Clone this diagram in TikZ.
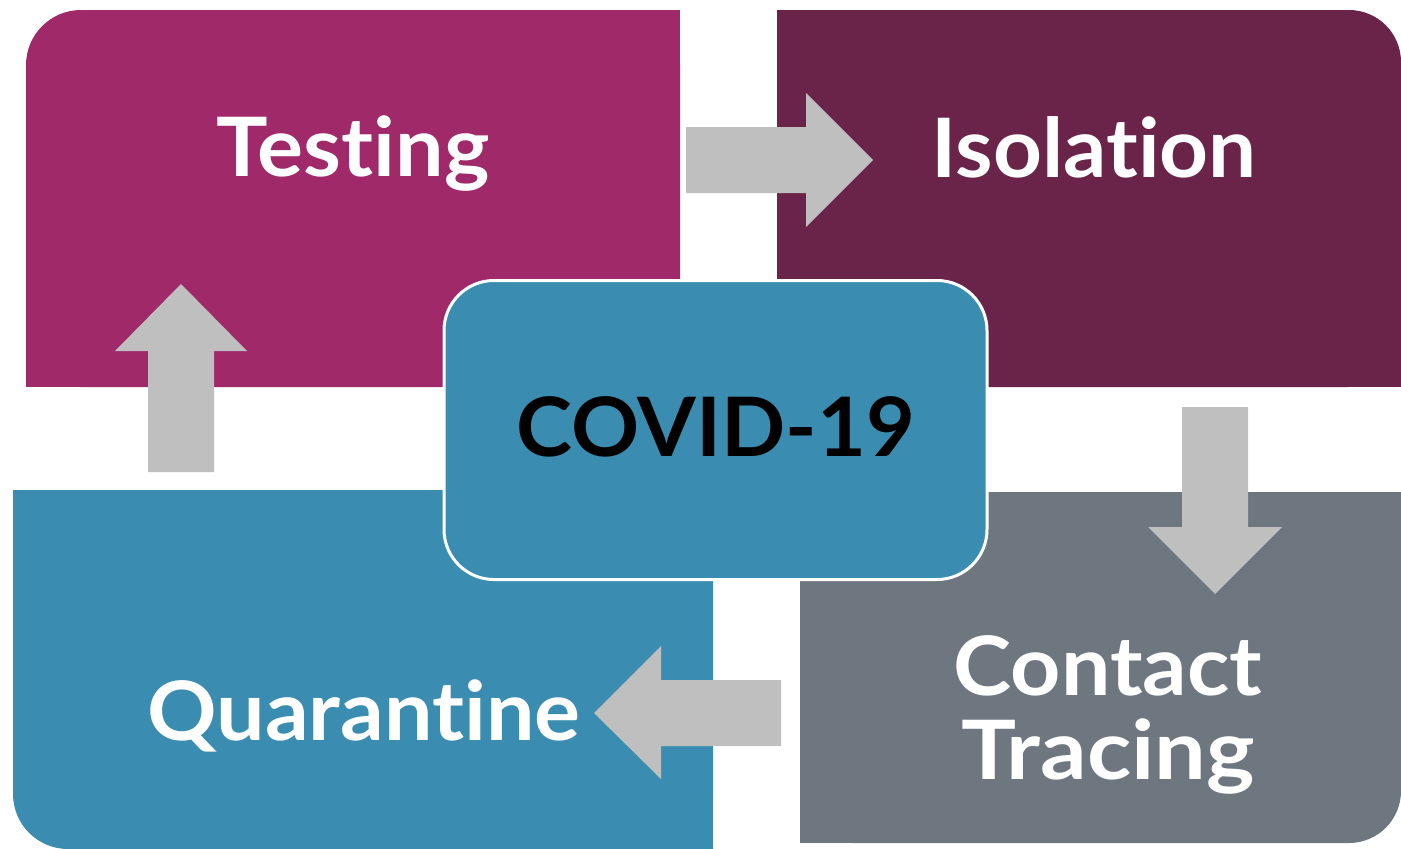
\documentclass[tikz,border=0pt]{standalone}
\usepackage{fontspec}
\setmainfont{Lato}[Ligatures=NoCommon]
\definecolor{testc}{HTML}{A0296A}
\definecolor{isoc}{HTML}{6A2449}
\definecolor{bluec}{HTML}{3A8DB0}
\definecolor{greyc}{HTML}{6E7780}
\definecolor{arrc}{HTML}{BFBFBF}
\begin{document}
\begin{tikzpicture}[x=1pt,y=-1pt,
  lbl/.style={anchor=base, font=\fontsize{82}{90}\selectfont\bfseries, text=white, inner sep=0pt},
  arr/.style={fill=arrc}]
\useasboundingbox (0,0) rectangle (1401,849);
% Testing box (top-left rounded)
\fill[testc, rounded corners=55] (26,10) rectangle (680,387);
\fill[testc] (81,10) rectangle (680,387);
\fill[testc] (26,65) rectangle (680,387);
% Isolation box (top-right rounded)
\fill[isoc, rounded corners=52] (777,10) rectangle (1401,387);
\fill[isoc] (777,10) rectangle (1349,387);
\fill[isoc] (777,62) rectangle (1401,387);
% Quarantine box (bottom-left rounded)
\fill[bluec, rounded corners=55] (13,490) rectangle (713,849);
\fill[bluec] (68,490) rectangle (713,849);
\fill[bluec] (13,490) rectangle (713,794);
% Contact Tracing box (bottom-right rounded)
\fill[greyc, rounded corners=52] (800,492) rectangle (1401,843);
\fill[greyc] (800,492) rectangle (1349,843);
\fill[greyc] (800,492) rectangle (1401,791);
% Centre box
\node[draw=white, line width=3pt, fill=bluec, rounded corners=50,
      minimum width=543pt, minimum height=299pt, inner sep=0pt] (covid) at (715.5,430) {};
% Arrows
\fill[arr] (686,127) -- (806,127) -- (806,93) -- (873,160) -- (806,227) -- (806,193) -- (686,193) -- cycle;
\fill[arr] (1182,407) -- (1248,407) -- (1248,527) -- (1282,527) -- (1215,594) -- (1148,527) -- (1182,527) -- cycle;
\fill[arr] (781,680) -- (661,680) -- (661,646) -- (594,713) -- (661,779) -- (661,746) -- (781,746) -- cycle;
\fill[arr] (148,472) -- (148,351) -- (115,351) -- (181,284) -- (247,351) -- (214,351) -- (214,472) -- cycle;
% Labels
\node[lbl] (tst) at (353,176) {\scalebox{1.05}[1]{Testing}};
\node[lbl] (iso) at (1094,177) {\scalebox{1.04}[1]{Isolation}};
\node[lbl, text=black] (cov) at (716,456) {\scalebox{1.03}[1]{COVID-19}};
\node[lbl] (qua) at (364,740) {\scalebox{1.05}[1]{Quarantine}};
\node[lbl] (con) at (1108,695) {\scalebox{1.07}[1]{Contact}};
\node[lbl] (tra) at (1108,779) {\scalebox{1.12}[1]{Tracing}};
\end{tikzpicture}
\end{document}
